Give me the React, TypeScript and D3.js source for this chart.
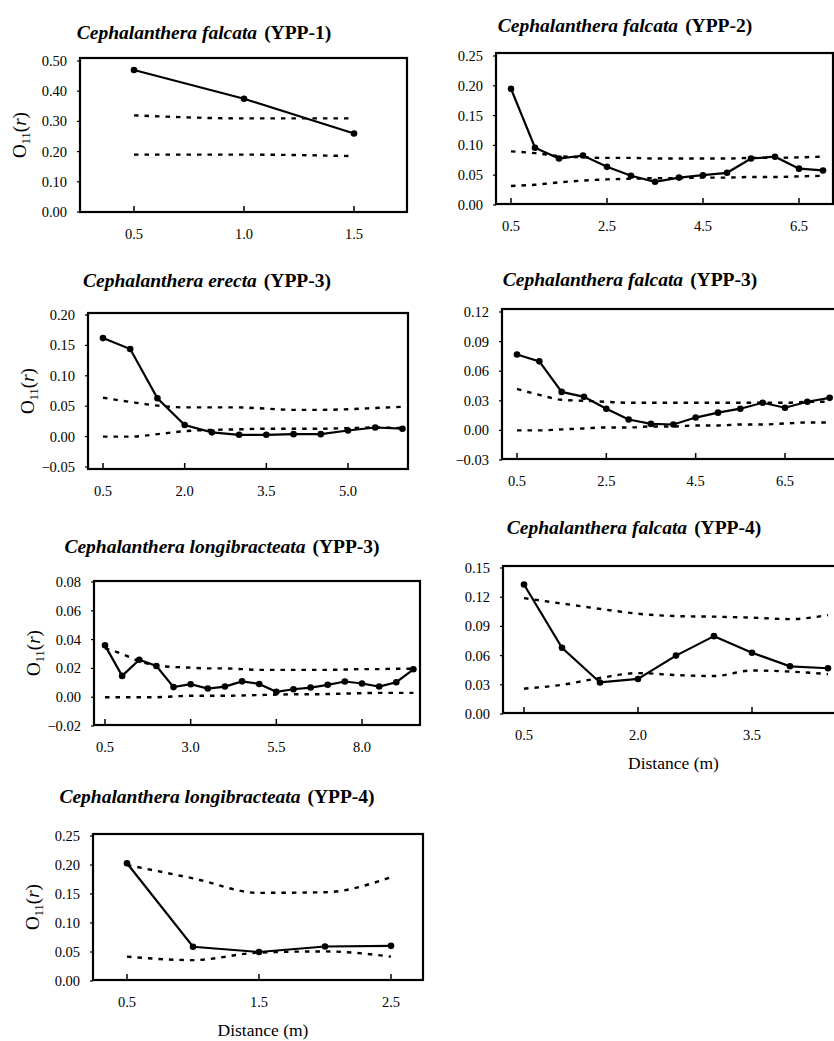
import React from "react";
import * as d3 from "d3";

// ---------- DATA ----------
const titles = [
  ["Cephalanthera falcata", "(YPP-1)"],
  ["Cephalanthera falcata", "(YPP-2)"],
  ["Cephalanthera erecta", "(YPP-3)"],
  ["Cephalanthera falcata", "(YPP-3)"],
  ["Cephalanthera longibracteata", "(YPP-3)"],
  ["Cephalanthera falcata", "(YPP-4)"],
  ["Cephalanthera longibracteata", "(YPP-4)"],
];

const dist1 = [0.5, 1.0, 1.5];
const obs1 = [0.47, 0.375, 0.26];
const up1 = [0.32, 0.31, 0.31];
const lo1 = [0.19, 0.19, 0.185];

const dist2 = [0.5, 1.0, 1.5, 2.0, 2.5, 3.0, 3.5, 4.0, 4.5, 5.0, 5.5, 6.0, 6.5, 7.0];
const obs2 = [0.195, 0.096, 0.078, 0.083, 0.064, 0.049, 0.039, 0.046, 0.05, 0.054, 0.078, 0.081, 0.061, 0.058];
const up2 = [0.09, 0.087, 0.082, 0.08, 0.079, 0.079, 0.078, 0.078, 0.078, 0.078, 0.079, 0.079, 0.08, 0.081];
const lo2 = [0.032, 0.034, 0.038, 0.041, 0.043, 0.044, 0.045, 0.045, 0.046, 0.046, 0.047, 0.047, 0.048, 0.049];

const dist3 = [0.5, 1.0, 1.5, 2.0, 2.5, 3.0, 3.5, 4.0, 4.5, 5.0, 5.5, 6.0];
const obs3 = [0.162, 0.144, 0.063, 0.019, 0.007, 0.003, 0.003, 0.004, 0.004, 0.01, 0.015, 0.013];
const up3 = [0.064, 0.057, 0.051, 0.048, 0.048, 0.048, 0.046, 0.044, 0.044, 0.045, 0.047, 0.049];
const lo3 = [0.0, 0.0, 0.004, 0.009, 0.011, 0.012, 0.013, 0.013, 0.013, 0.014, 0.015, 0.014];

const dist4 = [0.5, 1.0, 1.5, 2.0, 2.5, 3.0, 3.5, 4.0, 4.5, 5.0, 5.5, 6.0, 6.5, 7.0, 7.5];
const obs4 = [0.077, 0.07, 0.039, 0.034, 0.022, 0.011, 0.0066, 0.006, 0.013, 0.018, 0.022, 0.028, 0.023, 0.029, 0.033];
const up4 = [0.042, 0.036, 0.031, 0.03, 0.029, 0.028, 0.028, 0.028, 0.028, 0.028, 0.028, 0.028, 0.028, 0.029, 0.029];
const lo4 = [0.0, 0.0, 0.001, 0.002, 0.003, 0.003, 0.004, 0.004, 0.005, 0.005, 0.006, 0.006, 0.007, 0.008, 0.008];

const dist5 = [0.5, 1.0, 1.5, 2.0, 2.5, 3.0, 3.5, 4.0, 4.5, 5.0, 5.5, 6.0, 6.5, 7.0, 7.5, 8.0, 8.5, 9.0, 9.5];
const obs5 = [0.036, 0.0148, 0.026, 0.0217, 0.007, 0.009, 0.006, 0.0074, 0.011, 0.0092, 0.0037, 0.0055, 0.0067, 0.0086, 0.0109, 0.0095, 0.0074, 0.0104, 0.0194];
const up5 = [0.034, 0.03, 0.025, 0.022, 0.021, 0.0205, 0.02, 0.02, 0.0195, 0.019, 0.019, 0.019, 0.019, 0.019, 0.0192, 0.0195, 0.0195, 0.0198, 0.0198];
const lo5 = [0.0, 0.0, 0.0, 0.0, 0.0005, 0.001, 0.001, 0.001, 0.0012, 0.0015, 0.0018, 0.002, 0.002, 0.0022, 0.0025, 0.0028, 0.003, 0.003, 0.003];

const dist6 = [0.5, 1.0, 1.5, 2.0, 2.5, 3.0, 3.5, 4.0, 4.5];
const obs6 = [0.133, 0.068, 0.0324, 0.036, 0.06, 0.08, 0.063, 0.049, 0.047];
const up6 = [0.119, 0.1135, 0.108, 0.103, 0.1006, 0.1, 0.099, 0.0975, 0.1016];
const lo6 = [0.026, 0.03, 0.037, 0.042, 0.04, 0.039, 0.0447, 0.0436, 0.041];

const dist7 = [0.5, 1.0, 1.5, 2.0, 2.5];
const obs7 = [0.203, 0.059, 0.05, 0.0595, 0.0606];
const up7 = [0.2, 0.177, 0.152, 0.153, 0.179];
const lo7 = [0.042, 0.036, 0.049, 0.051, 0.042];

const xTicks = [
  [0.5, 1.0, 1.5],
  [0.5, 2.5, 4.5, 6.5],
  [0.5, 2.0, 3.5, 5.0],
  [0.5, 2.5, 4.5, 6.5],
  [0.5, 3.0, 5.5, 8.0],
  [0.5, 2.0, 3.5],
  [0.5, 1.5, 2.5],
];
const yTicks = [
  [0.0, 0.1, 0.2, 0.3, 0.4, 0.5],
  [0.0, 0.05, 0.1, 0.15, 0.2, 0.25],
  [-0.05, 0.0, 0.05, 0.1, 0.15, 0.2],
  [-0.03, 0.0, 0.03, 0.06, 0.09, 0.12],
  [-0.02, 0.0, 0.02, 0.04, 0.06, 0.08],
  [0.0, 0.03, 0.06, 0.09, 0.12, 0.15],
  [0.0, 0.05, 0.1, 0.15, 0.2, 0.25],
];

const series = [
  { d: dist1, o: obs1, u: up1, l: lo1 },
  { d: dist2, o: obs2, u: up2, l: lo2 },
  { d: dist3, o: obs3, u: up3, l: lo3 },
  { d: dist4, o: obs4, u: up4, l: lo4 },
  { d: dist5, o: obs5, u: up5, l: lo5 },
  { d: dist6, o: obs6, u: up6, l: lo6 },
  { d: dist7, o: obs7, u: up7, l: lo7 },
];

// ---------- LAYOUT ----------
const layout = [
  { frame: [80, 58, 407, 212], xv: [0.5, 1.5], xp: [134, 354], yp: [212, 61], title: [204, 39], yLabel: true, xLabel: false },
  { frame: [496, 53, 833, 204], xv: [0.5, 6.5], xp: [511, 799], yp: [205, 56], title: [625, 32], yLabel: false, xLabel: false },
  { frame: [88, 313, 408, 469], xv: [0.5, 5.0], xp: [103, 348], yp: [467, 315], title: [207, 287], yLabel: true, xLabel: false },
  { frame: [502, 309, 850, 459], xv: [0.5, 6.5], xp: [517, 785], yp: [460, 312], title: [630, 286], yLabel: false, xLabel: false },
  { frame: [94, 581, 420, 725], xv: [0.5, 8.0], xp: [105, 362], yp: [726, 582], title: [222, 553], yLabel: true, xLabel: false },
  { frame: [503, 566, 850, 713], xv: [0.5, 3.5], xp: [524, 752], yp: [714, 568], title: [634, 534], yLabel: false, xLabel: true },
  { frame: [93, 834, 423, 980], xv: [0.5, 2.5], xp: [127, 391], yp: [981, 836], title: [217, 803], yLabel: true, xLabel: true },
];

const FONT = "'Liberation Serif', 'Times New Roman', serif";

function Panel({ idx }: { idx: number }) {
  const L = layout[idx];
  const S = series[idx];
  const yt = yTicks[idx];
  const [fl, ft, fr, fb] = L.frame;
  const x = d3.scaleLinear().domain(L.xv).range(L.xp);
  const y = d3.scaleLinear().domain([yt[0], yt[yt.length - 1]]).range(L.yp);
  const line = d3
    .line<number>()
    .x((_, i) => x(S.d[i]))
    .y((v) => y(v));
  const smooth = d3
    .line<number>()
    .x((_, i) => x(S.d[i]))
    .y((v) => y(v))
    .curve(d3.curveMonotoneX);
  const fmtX = d3.format(".1f");
  const fmtY = d3.format(".2f");
  const [tx, ty] = L.title;
  return (
    <g>
      <text x={tx} y={ty} textAnchor="middle" fontFamily={FONT} fontSize={19.5} fontWeight="bold">
        <tspan fontStyle="italic">{titles[idx][0]}</tspan>
        <tspan dx={7}>{titles[idx][1]}</tspan>
      </text>
      <path d={smooth(S.u) || ""} fill="none" stroke="#000" strokeWidth={2.4} strokeDasharray="4.5 6" />
      <path d={smooth(S.l) || ""} fill="none" stroke="#000" strokeWidth={2.4} strokeDasharray="4.5 6" />
      <path d={line(S.o) || ""} fill="none" stroke="#000" strokeWidth={2.2} />
      {S.o.map((v, i) => (
        <circle key={i} cx={x(S.d[i])} cy={y(v)} r={3.3} fill="#000" />
      ))}
      <rect x={fl} y={ft} width={fr - fl} height={fb - ft} fill="none" stroke="#000" strokeWidth={2.2} />
      {xTicks[idx].map((t) => (
        <g key={"x" + t}>
          <line x1={x(t)} x2={x(t)} y1={fb} y2={fb - 6} stroke="#000" strokeWidth={1.5} />
          <text x={x(t)} y={fb + 27} textAnchor="middle" fontFamily={FONT} fontSize={14.5}>
            {fmtX(t)}
          </text>
        </g>
      ))}
      {yt.map((t) => (
        <g key={"y" + t}>
          <line x1={fl} x2={fl - 3} y1={y(t)} y2={y(t)} stroke="#000" strokeWidth={1.2} />
          <text x={fl - 13} y={y(t) + 5} textAnchor="end" fontFamily={FONT} fontSize={14.5}>
            {fmtY(t)}
          </text>
        </g>
      ))}
      {L.yLabel && (
        <text
          transform={`translate(${fl - 54},${(ft + fb) / 2}) rotate(-90)`}
          textAnchor="middle"
          fontFamily={FONT}
          fontSize={19}
        >
          O
          <tspan fontSize={12.5} dy={4}>11</tspan>
          <tspan dy={-4}>(</tspan>
          <tspan fontStyle="italic">r</tspan>
          <tspan>)</tspan>
        </text>
      )}
      {L.xLabel && (
        <text x={(fl + Math.min(fr, 834)) / 2 + 5} y={fb + 56} textAnchor="middle" fontFamily={FONT} fontSize={17.5}>
          Distance (m)
        </text>
      )}
    </g>
  );
}

export default function App() {
  return (
    <svg
      width={834}
      height={1041}
      style={{ position: "absolute", left: 0, top: 0, background: "#fff" }}
    >
      <rect width={834} height={1041} fill="#fff" />
      {layout.map((_, i) => (
        <Panel key={i} idx={i} />
      ))}
    </svg>
  );
}
